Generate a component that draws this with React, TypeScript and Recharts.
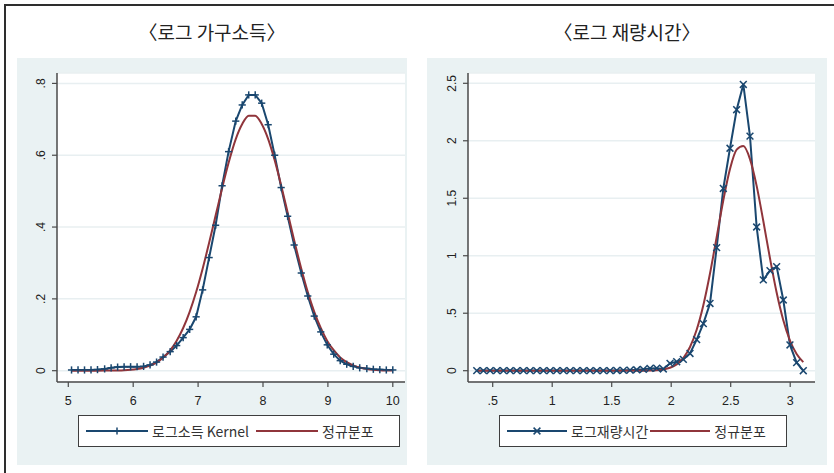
import React from 'react';
import { LineChart, Line, XAxis, YAxis, CartesianGrid, Legend } from 'recharts';

const NAVY = '#1A476F';
const MAROON = '#90353B';
const BG = '#EAF2F3';
const AXIS = '#4a4a4a';
const LATIN = '"Liberation Sans", Arial, Helvetica, sans-serif';
const CJK = '"Noto Sans CJK KR", "Noto Sans", sans-serif';

// ---------- 로그 가구소득 ----------
const incomeTitle = '〈로그 가구소득〉';
const incomeKernelName = '로그소득 Kernel';
const normalName = '정규분포';
const incomeX = [
  5.05, 5.15, 5.25, 5.35, 5.45, 5.56, 5.66, 5.76, 5.86, 5.96,
  6.06, 6.16, 6.26, 6.36, 6.46, 6.57, 6.67, 6.77, 6.87, 6.97,
  7.07, 7.17, 7.27, 7.37, 7.47, 7.58, 7.68, 7.78, 7.88, 7.98,
  8.08, 8.18, 8.28, 8.38, 8.48, 8.59, 8.69, 8.79, 8.89, 8.99,
  9.09, 9.19, 9.29, 9.39, 9.49, 9.6, 9.7, 9.8, 9.9, 10.0,
];
const incomeKernel = [
  0.002, 0.002, 0.002, 0.002, 0.003, 0.005, 0.008, 0.01, 0.011, 0.011,
  0.011, 0.012, 0.016, 0.024, 0.038, 0.053, 0.07, 0.092, 0.115, 0.15,
  0.225, 0.315, 0.405, 0.515, 0.61, 0.695, 0.74, 0.768, 0.768, 0.745,
  0.685, 0.6, 0.51, 0.43, 0.35, 0.272, 0.208, 0.152, 0.108, 0.072,
  0.046, 0.028, 0.018, 0.012, 0.008, 0.006, 0.004, 0.003, 0.002, 0.002,
];
const incomeNormal = [
  0, 0, 0, 0, 0.0001, 0.0002, 0.0004, 0.0008, 0.0015, 0.0027,
  0.0048, 0.0083, 0.014, 0.0227, 0.0358, 0.0567, 0.0834, 0.1188, 0.164, 0.219,
  0.284, 0.356, 0.432, 0.508, 0.579, 0.645, 0.687, 0.71, 0.71, 0.687,
  0.645, 0.586, 0.516, 0.44, 0.363, 0.284, 0.219, 0.164, 0.119, 0.083,
  0.057, 0.037, 0.024, 0.015, 0.0088, 0.0048, 0.0027, 0.0015, 0.0008, 0.0004,
];
const incomeXTicks = [5, 6, 7, 8, 9, 10];
const incomeYTicks = [0, 0.2, 0.4, 0.6, 0.8];

// ---------- 로그 재량시간 ----------
const timeTitle = '〈로그 재량시간〉';
const timeKernelName = '로그재량시간';
const timeX = [
  0.366, 0.422, 0.478, 0.534, 0.59, 0.646, 0.702, 0.758, 0.814, 0.87,
  0.926, 0.982, 1.038, 1.094, 1.15, 1.206, 1.262, 1.318, 1.374, 1.43,
  1.486, 1.542, 1.598, 1.654, 1.71, 1.766, 1.822, 1.878, 1.934, 1.99,
  2.046, 2.102, 2.158, 2.214, 2.27, 2.326, 2.382, 2.438, 2.494, 2.55,
  2.606, 2.662, 2.718, 2.774, 2.83, 2.886, 2.942, 2.998, 3.054, 3.11,
];
const timeKernel = [
  0.001, 0.001, 0.001, 0.001, 0.001, 0.001, 0.001, 0.001, 0.001, 0.001,
  0.001, 0.001, 0.001, 0.001, 0.001, 0.001, 0.001, 0.001, 0.001, 0.001,
  0.001, 0.002, 0.003, 0.005, 0.008, 0.012, 0.02, 0.022, 0.015, 0.064,
  0.078, 0.099, 0.15, 0.27, 0.41, 0.585, 1.07, 1.585, 1.935, 2.27,
  2.49, 2.04, 1.25, 0.79, 0.87, 0.905, 0.615, 0.224, 0.07, 0.0,
];
const timeNormal = [
  0, 0, 0, 0, 0, 0, 0, 0, 0, 0,
  0, 0, 0, 0, 0, 0, 0, 0, 0, 0,
  0, 0, 0, 0.0001, 0.0003, 0.0005, 0.0016, 0.0043, 0.011, 0.0254,
  0.055, 0.1106, 0.206, 0.3556, 0.569, 0.845, 1.1625, 1.483, 1.754, 1.923,
  1.954, 1.841, 1.608, 1.302, 0.978, 0.68, 0.439, 0.2627, 0.1457, 0.0749,
];
const timeXTicks = [0.5, 1, 1.5, 2, 2.5, 3];
const timeYTicks = [0, 0.5, 1, 1.5, 2, 2.5];

const fmt = (v: number) => (v === 0 ? '0' : String(v).replace(/^0\./, '.'));

const XTick = (props: any) => {
  const { x, y, payload } = props;
  return (
    <text x={x} y={y + 12} textAnchor="middle" dominantBaseline="central" fontSize={12.5} fill="#222" fontFamily={LATIN}>
      {fmt(payload.value)}
    </text>
  );
};

const YTick = (props: any) => {
  const { x, y, payload } = props;
  const cx = x - 9;
  return (
    <text x={cx} y={y} transform={`rotate(-90 ${cx} ${y})`} textAnchor="middle" dominantBaseline="central" fontSize={12} fill="#222" fontFamily={LATIN}>
      {fmt(payload.value)}
    </text>
  );
};

const plusShape = (cx: number, cy: number, color: string, s = 3.6) => (
  <>
    <line x1={cx - s} x2={cx + s} y1={cy} y2={cy} stroke={color} strokeWidth={1.5} />
    <line x1={cx} x2={cx} y1={cy - s} y2={cy + s} stroke={color} strokeWidth={1.5} />
  </>
);
const crossShape = (cx: number, cy: number, color: string, s = 3.4) => (
  <>
    <line x1={cx - s} x2={cx + s} y1={cy - s} y2={cy + s} stroke={color} strokeWidth={1.5} />
    <line x1={cx - s} x2={cx + s} y1={cy + s} y2={cy - s} stroke={color} strokeWidth={1.5} />
  </>
);

const renderPlus = (p: any) => {
  const { cx, cy, index } = p;
  if (cx == null || cy == null) return <g key={`p${index}`} />;
  return <g key={`p${index}`}>{plusShape(cx, cy, NAVY)}</g>;
};
const renderCross = (p: any) => {
  const { cx, cy, index } = p;
  if (cx == null || cy == null) return <g key={`c${index}`} />;
  return <g key={`c${index}`}>{crossShape(cx, cy, NAVY)}</g>;
};

type LegendSpec = {
  kernelName: string;
  marker: 'plus' | 'cross';
  lineLen: number;
  gapAfterText: number;
};

const LegendBox = ({ kernelName, marker, lineLen, gapAfterText }: LegendSpec) => (
  <div
    style={{
      width: '100%',
      height: '100%',
      boxSizing: 'border-box',
      border: '1.5px solid #3e3e3e',
      background: '#fff',
      display: 'flex',
      alignItems: 'center',
      paddingLeft: 7,
      fontFamily: CJK,
      fontSize: 14,
      color: '#333',
      whiteSpace: 'nowrap',
    }}
  >
    <svg width={lineLen} height={14} style={{ display: 'block' }}>
      <line x1={0} x2={lineLen} y1={7} y2={7} stroke={NAVY} strokeWidth={2} />
      {marker === 'plus' ? plusShape(lineLen / 2, 7, NAVY) : crossShape(lineLen / 2, 7, NAVY)}
    </svg>
    <span style={{ marginLeft: 4 }}>{kernelName}</span>
    <svg width={lineLen} height={14} style={{ display: 'block', marginLeft: gapAfterText }}>
      <line x1={0} x2={lineLen} y1={7} y2={7} stroke={MAROON} strokeWidth={2} />
    </svg>
    <span style={{ marginLeft: 4 }}>{normalName}</span>
  </div>
);

type PanelProps = {
  left: number;
  width: number;
  title: string;
  xs: number[];
  kernel: number[];
  normal: number[];
  xDomain: [number, number];
  yDomain: [number, number];
  xTicks: number[];
  yTicks: number[];
  yAxisWidth: number;
  rightMargin: number;
  marker: 'plus' | 'cross';
  legendLeft: number;
  legendWidth: number;
  kernelName: string;
  lineLen: number;
  gapAfterText: number;
};

const Panel = (p: PanelProps) => {
  const data = p.xs.map((x, i) => ({ x, k: p.kernel[i], n: p.normal[i] }));
  return (
    <>
      <div
        style={{
          position: 'absolute',
          left: p.left,
          top: 19,
          width: p.width,
          height: 26,
          lineHeight: '26px',
          textAlign: 'center',
          fontFamily: CJK,
          fontSize: 19,
          color: '#222',
        }}
      >
        {p.title}
      </div>
      <div style={{ position: 'absolute', left: p.left, top: 58, width: p.width, height: 407, background: BG }}>
        <LineChart width={p.width} height={407} data={data} margin={{ top: 15, right: p.rightMargin, left: 0, bottom: 0 }}>
          <CartesianGrid vertical={false} fill="#ffffff" stroke="#E8EFF1" strokeWidth={1.5} />
          <XAxis
            dataKey="x"
            type="number"
            domain={p.xDomain}
            ticks={p.xTicks}
            interval={0}
            allowDataOverflow
            height={83}
            tick={<XTick />}
            tickSize={5}
            tickLine={{ stroke: AXIS, strokeWidth: 1.2 }}
            axisLine={{ stroke: AXIS, strokeWidth: 1.5 }}
          />
          <YAxis
            type="number"
            domain={p.yDomain}
            ticks={p.yTicks}
            interval={0}
            allowDataOverflow
            width={p.yAxisWidth}
            tick={<YTick />}
            tickSize={5}
            tickLine={{ stroke: AXIS, strokeWidth: 1.2 }}
            axisLine={{ stroke: AXIS, strokeWidth: 1.5 }}
          />
          <Line
            dataKey="k"
            type="linear"
            stroke={NAVY}
            strokeWidth={2}
            dot={p.marker === 'plus' ? renderPlus : renderCross}
            activeDot={false}
            isAnimationActive={false}
            legendType="none"
          />
          <Line
            dataKey="n"
            type="monotone"
            stroke={MAROON}
            strokeWidth={2}
            dot={false}
            activeDot={false}
            isAnimationActive={false}
            legendType="none"
          />
          <Legend
            layout="horizontal"
            verticalAlign="middle"
            align="center"
            wrapperStyle={{ left: p.legendLeft, top: 357, width: p.legendWidth, height: 32 }}
            content={() => (
              <LegendBox kernelName={p.kernelName} marker={p.marker} lineLen={p.lineLen} gapAfterText={p.gapAfterText} />
            )}
          />
        </LineChart>
      </div>
    </>
  );
};

export default function App() {
  return (
    <div style={{ position: 'absolute', left: 0, top: 0, width: 834, height: 473, background: '#fff', overflow: 'hidden' }}>
      <div
        style={{
          position: 'absolute',
          left: 4,
          top: 4,
          width: 840,
          height: 480,
          borderLeft: '2px solid #2e2e2e',
          borderTop: '2px solid #2e2e2e',
        }}
      />
      <Panel
        left={17}
        width={390}
        title={incomeTitle}
        xs={incomeX}
        kernel={incomeKernel}
        normal={incomeNormal}
        xDomain={[4.826, 10.188]}
        yDomain={[-0.0315, 0.829]}
        xTicks={incomeXTicks}
        yTicks={incomeYTicks}
        yAxisWidth={40}
        rightMargin={2}
        marker="plus"
        legendLeft={61}
        legendWidth={322}
        kernelName={incomeKernelName}
        lineLen={62}
        gapAfterText={7}
      />
      <Panel
        left={427}
        width={400}
        title={timeTitle}
        xs={timeX}
        kernel={timeKernel}
        normal={timeNormal}
        xDomain={[0.2924, 3.2084]}
        yDomain={[-0.0983, 2.5896]}
        xTicks={timeXTicks}
        yTicks={timeYTicks}
        yAxisWidth={41}
        rightMargin={12}
        marker="cross"
        legendLeft={72}
        legendWidth={288}
        kernelName={timeKernelName}
        lineLen={60}
        gapAfterText={2}
      />
    </div>
  );
}
